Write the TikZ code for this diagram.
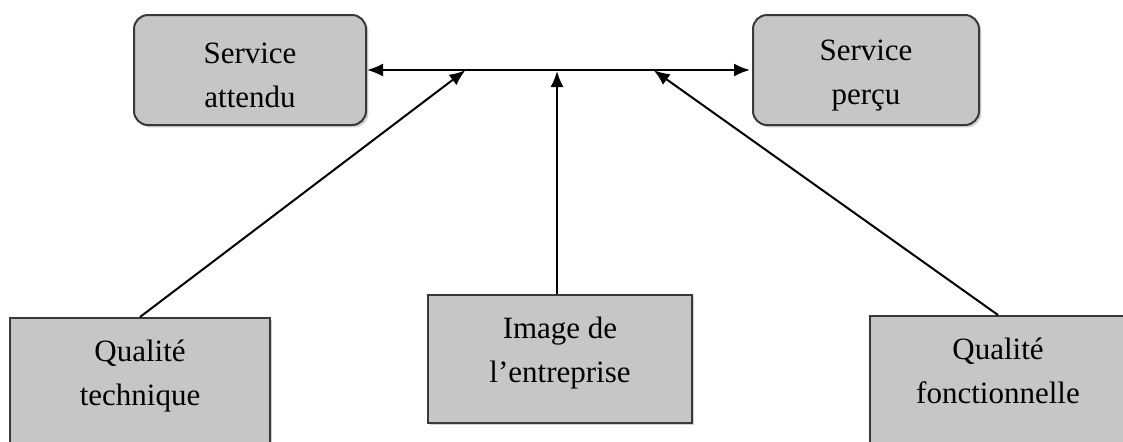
\documentclass[tikz,border=0pt]{standalone}
\usepackage{fontspec}
\setmainfont{Liberation Serif}
\usetikzlibrary{shadows,arrows.meta}

\begin{document}
\begin{tikzpicture}[x=0.5pt,y=-0.5pt,>={Latex[length=8pt,width=6.5pt]},
		box/.style={draw=gray!45!black,line width=1pt,fill=gray!45,align=center,
			font=\fontsize{15.5}{22}\selectfont,inner sep=0pt,
			drop shadow={shadow xshift=1.2pt,shadow yshift=-1.2pt,fill=gray!70}},
		roundbox/.style={box,rounded corners=7pt,minimum width=116pt,minimum height=55pt},
		lowbox/.style={box,minimum width=128pt,anchor=north,text depth=60pt,
			minimum height=30pt},
		link/.style={line width=1pt,shorten >=1pt}]
		\clip (0,0) rectangle (1123,441);
		% attendu / percu
		\node[roundbox] (attendu) at (250,70) {\rule{0pt}{15.5pt}Service\\attendu};
		\node[roundbox,minimum width=113pt] (percu) at (866,70) {\rule{0pt}{15.5pt}Service\\perçu};
		% the three sources
		\node[lowbox,minimum width=130pt] (tech) at (140,317) {\rule{0pt}{21.5pt}Qualité\\technique};
		\node[box,minimum width=132pt,minimum height=64pt] (image) at (560,359) {\rule{0pt}{13pt}Image de\\l'entreprise\rule[-12pt]{0pt}{1pt}};
		\node[lowbox] (fonc) at (998,315) {\rule{0pt}{21.5pt}Qualité\\fonctionnelle};

		\coordinate (TL) at (467,69);
		\coordinate (TM) at (557,69);
		\coordinate (TR) at (652,69);

		\draw[link,<->] (attendu) -- (percu);
		\draw[link,->] (tech.north) -- (TL);
		\draw[link,->] (image.north -| TM) -- (TM);
		\draw[link,->] (fonc.north) -- (TR);
	    \end{tikzpicture}
\end{document}
